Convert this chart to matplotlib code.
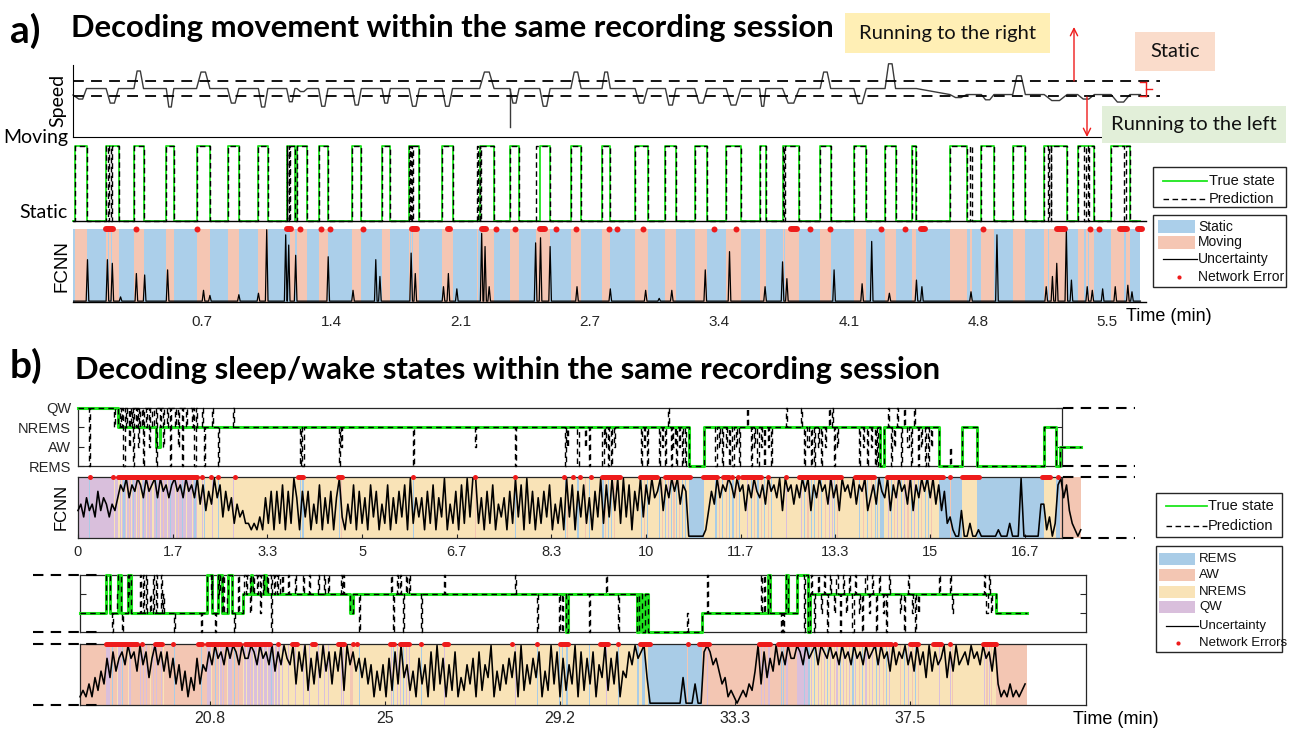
import matplotlib
matplotlib.use('Agg')
import matplotlib.pyplot as plt
from matplotlib.patches import Rectangle
import numpy as np

W, H = 1296, 737
GREEN = '#1ee61e'
RED = '#ee1b1b'
INK = '#262626'
TITLE_FONT = 'Lato'
SANS = 'Liberation Sans'

# ---------------- a) movement decoding (time in minutes) ----------------
# moving intervals of the true state
a_true_moving = [
    (0.010, 0.072), (0.176, 0.242), (0.324, 0.375), (0.496, 0.536), (0.657, 0.728),
    (0.822, 0.882), (0.986, 1.036), (1.136, 1.180), (1.191, 1.246), (1.306, 1.356),
    (1.484, 1.533), (1.643, 1.687), (1.787, 1.842), (1.963, 2.018), (2.162, 2.239),
    (2.323, 2.372), (2.482, 2.537), (2.647, 2.702), (2.813, 2.857), (2.989, 3.055),
    (3.150, 3.206), (3.306, 3.373), (3.473, 3.551), (3.651, 3.684), (3.773, 3.862),
    (3.973, 4.029), (4.152, 4.218), (4.318, 4.374), (4.463, 4.485), (4.663, 4.752),
    (4.830, 4.897), (4.997, 5.064), (5.164, 5.286), (5.342, 5.431), (5.520, 5.620),
]
# peak velocity of each run relative to the resting level (+ right, - left)
a_run_peak = [-7, -9.7, 11.7, -12.3, 11, -9.7, -12.3, -8.8, -2, -11.8,
              -11, -9.7, -11.8, -11.8, 11, -9.7, -11.8, 11, 11, -9.7,
              -11, -9.7, -11, -11.8, -9.7, 11, -10, 16.5, 0, -2,
              -3.5, 12.5, -4, -3, -5]
a_speed_level = [(0.0, 0.0), (4.60, -4.0)]
a_speed_start = -4.3
a_speed_spikes = [(2.323, -25.6)]
a_threshold = 5.0

# decoder output: predicted moving intervals
a_pred_moving = [
    (0.010, 0.072), (0.176, 0.186), (0.192, 0.200), (0.206, 0.242),
    (0.324, 0.375), (0.496, 0.536), (0.657, 0.728), (0.822, 0.882), (0.986, 1.036),
    (1.136, 1.140), (1.146, 1.150), (1.154, 1.180),
    (1.191, 1.246), (1.306, 1.356), (1.484, 1.533), (1.643, 1.687),
    (1.787, 1.792), (1.797, 1.802), (1.806, 1.842), (1.963, 2.018),
    (2.150, 2.155), (2.162, 2.166), (2.170, 2.239),
    (2.323, 2.372), (2.460, 2.537), (2.647, 2.702), (2.813, 2.857), (2.989, 3.055),
    (3.150, 3.206), (3.306, 3.373), (3.473, 3.551), (3.651, 3.684),
    (3.773, 3.780), (3.786, 3.862), (3.973, 4.029), (4.152, 4.218), (4.318, 4.374),
    (4.463, 4.485), (4.663, 4.752), (4.770, 4.778), (4.830, 4.897), (4.997, 5.064),
    (5.164, 5.185), (5.192, 5.198), (5.203, 5.286),
    (5.342, 5.378), (5.385, 5.395), (5.400, 5.431), (5.520, 5.590), (5.598, 5.620),
]
# uncertainty peaks (time, height)
a_unc_spikes = [
    (0.077, 0.58), (0.183, 0.58), (0.209, 0.53), (0.253, 0.07), (0.337, 0.39),
    (0.381, 0.37), (0.503, 0.44), (0.694, 0.16), (0.728, 0.09), (0.882, 0.10),
    (0.986, 0.12), (1.030, 0.99), (1.131, 0.92), (1.147, 0.78), (1.184, 0.64),
    (1.357, 0.62), (1.489, 0.16), (1.610, 0.58), (1.632, 0.35), (1.798, 0.67),
    (1.820, 0.39), (1.970, 0.21), (1.996, 0.39), (2.041, 0.18), (2.173, 0.94),
    (2.191, 0.76), (2.213, 0.21), (2.460, 0.81), (2.486, 0.88), (2.537, 0.76),
    (2.680, 0.21), (2.857, 0.18), (3.045, 0.16), (3.117, 0.05), (3.184, 0.16),
    (3.362, 0.44), (3.491, 0.69), (3.680, 0.21), (3.773, 0.55), (3.796, 0.32),
    (4.047, 0.44), (4.196, 0.25), (4.247, 0.83), (4.341, 0.12), (4.485, 0.30),
    (4.514, 0.21), (4.775, 0.14), (4.913, 0.92), (5.175, 0.21), (5.208, 0.35),
    (5.231, 0.53), (5.282, 0.99), (5.309, 0.30), (5.393, 0.21), (5.420, 0.16),
    (5.475, 0.18), (5.542, 0.21), (5.609, 0.23), (5.631, 0.14),
]
# network errors (start, end)
a_err = [
    (0.176, 0.214), (0.337, 0.337), (0.661, 0.661), (1.136, 1.158), (1.206, 1.206),
    (1.317, 1.317), (1.368, 1.368), (1.544, 1.544), (1.804, 1.831), (1.992, 2.007),
    (2.173, 2.195), (2.250, 2.250), (2.349, 2.349), (2.482, 2.508), (2.566, 2.566),
    (2.676, 2.676), (2.850, 2.850), (2.890, 2.890), (3.029, 3.029), (3.406, 3.406),
    (3.528, 3.528), (3.818, 3.851), (3.918, 3.918), (4.025, 4.025), (4.296, 4.296),
    (4.423, 4.423), (4.508, 4.530), (4.837, 4.837), (5.231, 5.275), (5.409, 5.409),
    (5.453, 5.453), (5.565, 5.603), (5.665, 5.683),
]
a_end = 5.676
a_ticks = [0.6875, 1.375, 2.0625, 2.75, 3.4375, 4.125, 4.8125, 5.5]
a_ticklabels = ['0.7', '1.4', '2.1', '2.7', '3.4', '4.1', '4.8', '5.5']

# ---------------- b) sleep/wake decoding ----------------
REMS, AW, NREMS, QW = 1, 2, 3, 4
b_state_names = ['REMS', 'AW', 'NREMS', 'QW']
b_state_colors = {REMS: '#a9cce7', AW: '#f3c6b3', NREMS: '#f9e3b7', QW: '#d9bfdc'}

b1_true = [(0.0, QW), (0.71, NREMS), (1.37, AW), (1.44, NREMS), (10.76, REMS),
           (11.02, NREMS), (14.12, REMS), (14.19, NREMS), (15.16, REMS),
           (15.56, NREMS), (15.83, REMS), (17.01, NREMS), (17.22, REMS), (17.29, AW)]
b1_end = 17.66
# stretches where the prediction stays in another state (start, end, state)
b1_hold = [(0.74, 2.10, QW)]
# short excursions of the prediction (time, state)
b1_flick = [
    (0.19, 1), (0.63, 3),
    (0.76, 3), (0.80, 1), (0.85, 3), (0.89, 2), (0.93, 3), (0.97, 1), (1.02, 3), (1.06, 2),
    (1.10, 3), (1.15, 1), (1.20, 3), (1.25, 2), (1.31, 3), (1.37, 1), (1.44, 3), (1.50, 2),
    (1.56, 3), (1.62, 1), (1.70, 3), (1.76, 2), (1.83, 1), (1.90, 3), (2.00, 3), (2.05, 1),
    (2.18, 4), (2.22, 1), (2.36, 4), (2.46, 1), (2.73, 4),
    (3.90, 1), (3.95, 1), (4.60, 1), (4.63, 2), (5.90, 1), (6.99, 2), (7.69, 1),
    (8.57, 1), (8.61, 2), (8.79, 1), (8.93, 2), (9.00, 1),
    (9.23, 1), (9.28, 2), (9.33, 1), (9.38, 1), (9.44, 2), (9.91, 1), (9.96, 2), (10.01, 1),
    (10.23, 1), (10.28, 2), (10.33, 1), (10.38, 4), (10.43, 1), (10.48, 2), (10.53, 1),
    (10.58, 2), (10.63, 1), (10.68, 1),
    (11.22, 1), (11.28, 2), (11.34, 1), (11.40, 2), (11.46, 1), (11.52, 1), (11.58, 2),
    (11.64, 1), (11.78, 4),
    (11.84, 1), (11.90, 2), (11.96, 1), (12.02, 2), (12.08, 1), (12.14, 2), (12.20, 1),
    (12.46, 4), (12.73, 4),
    (12.78, 1), (12.84, 2), (12.90, 1), (12.96, 1), (13.02, 2), (13.08, 1), (13.14, 2),
    (13.22, 4), (13.27, 4), (13.31, 1), (13.36, 2),
    (13.75, 1), (13.82, 2), (13.88, 1), (13.95, 2), (14.02, 1), (14.07, 1),
    (14.26, 4), (14.31, 1), (14.36, 2), (14.42, 4), (14.48, 1), (14.54, 4), (14.60, 2),
    (14.66, 1), (14.72, 4), (14.78, 1), (14.84, 2), (14.90, 1), (14.96, 1), (15.02, 2),
    (15.35, 2),
]
b1_err = [
    (0.21, 0.21), (0.62, 0.62), (0.70, 2.10), (2.18, 2.18), (2.34, 2.34), (2.46, 2.46),
    (2.76, 2.76), (3.87, 3.96), (4.58, 4.65), (5.90, 5.90), (6.99, 6.99), (7.69, 7.69),
    (8.56, 8.56), (8.71, 8.71), (8.84, 8.84), (9.03, 9.03), (9.23, 9.54), (9.89, 10.19),
    (10.33, 10.77), (11.00, 11.25), (11.35, 11.45), (11.52, 11.52), (11.62, 11.62),
    (11.69, 12.02), (12.15, 12.15), (12.46, 12.46), (12.69, 13.43), (13.68, 14.01),
    (14.24, 15.23), (15.35, 15.35), (15.56, 15.86), (16.97, 17.11), (17.25, 17.25),
]
# uncertainty, one digit (0-9) per 0.05 min
b1_unc_dt = 0.05
b1_unc = ("45364537465354687968" "79869789697868978697" "86958475968374625342"
          "21213162717281729617" "37152816271693152817" "26183715281627381926"
          "36172816391527182939" "92617281536172938192" "71627381526193817382"
          "61739283949293817493" "85967948697958700000" "01475968798697848697"
          "68597869497858697948" "69785968497869587946" "85976948697859486979"
          "69584723100400200100" "00001000200090000005" "51302896842101")
b1_ticks = [0, 1.667, 3.333, 5, 6.667, 8.333, 10, 11.667, 13.333, 15, 16.667]
b1_ticklabels = ['0', '1.7', '3.3', '5', '6.7', '8.3', '10', '11.7', '13.3', '15', '16.7']

b2_true = [(17.74, AW), (18.36, QW), (18.45, AW), (18.64, QW), (18.71, AW), (18.88, QW),
           (18.96, AW), (20.76, QW), (20.88, AW), (21.02, QW), (21.12, AW), (21.26, QW),
           (21.36, AW), (21.62, NREMS), (21.80, QW), (21.84, NREMS), (22.12, QW),
           (22.16, NREMS), (24.17, AW), (24.24, NREMS), (29.31, REMS), (29.36, NREMS),
           (31.00, REMS), (31.05, NREMS), (31.12, REMS), (31.20, NREMS), (31.26, REMS),
           (32.55, AW), (34.12, QW), (34.17, AW), (34.55, QW), (34.60, AW), (34.81, QW),
           (35.08, REMS), (35.12, NREMS), (39.55, AW)]
b2_end = 40.29
b2_hold = [(21.64, 22.50, QW)]
b2_flick = [
    (18.50, 1), (18.62, 3), (18.75, 1), (18.88, 3), (19.17, 4),
    (19.24, 4), (19.32, 4), (19.40, 3), (19.48, 4), (19.56, 4), (19.66, 4), (19.71, 3),
    (19.97, 1), (20.62, 1),
    (20.85, 3), (20.95, 1), (21.05, 3), (21.15, 4), (21.25, 3), (21.40, 1), (21.50, 4),
    (21.70, 3), (21.78, 2), (21.86, 3), (21.95, 3), (22.03, 2), (22.10, 3), (22.20, 3),
    (22.28, 1), (22.36, 3), (22.44, 3),
    (22.55, 4), (22.70, 4), (22.85, 4), (23.05, 4), (23.20, 4), (23.40, 4), (23.55, 4),
    (23.65, 4), (23.95, 4), (24.00, 4), (24.38, 1),
    (25.14, 4), (25.20, 1), (25.28, 4), (25.35, 4), (25.42, 1), (25.50, 4), (25.58, 4),
    (25.86, 1), (26.41, 4), (28.10, 4), (28.62, 1), (29.14, 1), (29.22, 1), (29.86, 1),
    (30.26, 4), (30.55, 1),
    (32.18, 2), (32.67, 4), (33.96, 4), (34.02, 4), (34.42, 1), (34.48, 1),
    (34.90, 4), (34.97, 1), (35.05, 4), (35.15, 4), (35.22, 1), (35.30, 4), (35.38, 2),
    (35.45, 4), (35.52, 1), (35.60, 4), (35.68, 2), (35.75, 4), (35.83, 1), (35.90, 4),
    (35.98, 2), (36.05, 4), (36.13, 1), (36.20, 4), (36.28, 2), (36.36, 1), (36.44, 4),
    (36.52, 2), (36.60, 4), (36.68, 1), (36.76, 4), (36.85, 2), (36.93, 1), (37.01, 4),
    (37.26, 2), (37.35, 1), (37.45, 4), (37.55, 2), (37.62, 1), (37.69, 2),
    (38.19, 4), (38.46, 4), (38.49, 2),
    (39.26, 4), (39.32, 2), (39.38, 4), (39.43, 2),
]
b2_err = [
    (18.36, 19.10), (19.22, 19.22), (19.53, 19.69), (19.95, 19.95), (20.55, 20.64),
    (20.76, 21.55), (21.67, 22.26), (22.45, 22.45), (22.79, 22.91), (23.26, 23.34),
    (23.88, 24.03), (24.24, 24.24), (24.33, 24.33), (25.12, 25.22), (25.36, 25.57),
    (25.86, 25.86), (26.41, 26.50), (28.03, 28.03), (28.62, 28.62), (29.17, 29.36),
    (30.12, 30.31), (30.55, 30.55), (31.07, 31.31), (32.22, 32.22), (32.48, 32.72),
    (33.90, 34.17), (34.36, 37.05), (37.14, 37.14), (37.50, 37.69), (38.05, 38.24),
    (38.45, 38.45), (39.24, 39.55),
]
# uncertainty, one digit per 1/14 min
b2_unc_dt = 1 / 14
b2_unc = ("12131425374857" "86978596847968" "58473625142736" "58697869798697"
          "79869786958697" "69385927384958" "38592968574736" "15261728394625"
          "17361829371628" "14263718264915" "26374819263748" "15293817263918"
          "27381649273815" "48697894000000" "00000400030089" "86753412101213"
          "25938475968697" "79869789698797" "86978697869789" "69785968796859"
          "68495867948596" "78697869785931" "21312123")
b2_ticks = [20.833, 25, 29.167, 33.333, 37.5]
b2_ticklabels = ['20.8', '25', '29.2', '33.3', '37.5']


def px_axes(fig, x0, y0, x1, y1):
    return fig.add_axes([x0 / W, 1 - y1 / H, (x1 - x0) / W, (y1 - y0) / H])


def pulse_xy(intervals, t_end):
    xs, ys = [0.0], [0]
    for ts, te in intervals:
        xs += [ts, ts, te, te]
        ys += [0, 1, 1, 0]
    xs.append(t_end)
    ys.append(0)
    return xs, ys


def state_at(changes, t):
    s = changes[0][1]
    for t0, v in changes:
        if t0 <= t:
            s = v
        else:
            break
    return s


def prediction(changes, holds, flicks, dur):
    # true state with held stretches, then short excursions on top
    base = list(changes)
    for h0, h1, lvl in holds:
        after = state_at(base, h1)
        base = [e for e in base if not (h0 <= e[0] <= h1)]
        base += [(h0, lvl), (h1, after)]
        base.sort(key=lambda e: e[0])
    ev = list(base)
    for tf, lvl in flicks:
        ev.append((tf, lvl))
        ev.append((tf + dur, state_at(base, tf + dur)))
    ev.sort(key=lambda e: e[0])
    return ev


def step_xy(changes, t_end):
    xs, ys = [], []
    for i, (t, v) in enumerate(changes):
        t1 = changes[i + 1][0] if i + 1 < len(changes) else t_end
        xs += [t, t1]
        ys += [v, v]
    return xs, ys


def state_spans(changes, t_end):
    out = {}
    for i, (t, v) in enumerate(changes):
        t1 = changes[i + 1][0] if i + 1 < len(changes) else t_end
        if t1 > t:
            out.setdefault(v, []).append((t, t1 - t))
    return out


def draw_errors(ax, errs, lw, y=1.0):
    for t0, t1 in errs:
        if t1 > t0:
            ax.plot([t0, t1], [y, y], color=RED, lw=lw, solid_capstyle='round',
                    clip_on=False, zorder=6)
        else:
            ax.plot([t0], [y], 'o', color=RED, ms=lw, mec='none', clip_on=False, zorder=6)


def box_style(ax):
    for sp in ax.spines.values():
        sp.set_color(INK)
        sp.set_linewidth(0.9)


fig = plt.figure(figsize=(W / 100, H / 100), dpi=100)

# ---- a) speed ----
a_xmax = 5.78
ax = px_axes(fig, 73, 65, 1160, 137)
ax.set_xlim(0, a_xmax)
ax.set_ylim(-32.3, 15.7)


def speed_base(t):
    b = a_speed_level[0][1]
    for t0, v in a_speed_level:
        if t >= t0:
            b = v
    return b


sx, sy = [0.0], [a_speed_start]
for (ts, te), pk in zip(a_true_moving, a_run_peak):
    w = te - ts
    b = speed_base(ts)
    if ts > 0.02:
        sx.append(ts)
        sy.append(b)
    sx += [ts + w / 3, te - w / 3, te]
    sy += [b + pk, b + pk, b]
sx.append(a_end)
sy.append(speed_base(a_end))
ax.plot(sx, sy, color='#3a3a3a', lw=1.0, clip_on=False)
for ts, v in a_speed_spikes:
    ax.plot([ts, ts], [speed_base(ts), v], color='#3a3a3a', lw=1.0)
for th in (a_threshold, -a_threshold):
    ax.plot([0, a_xmax], [th, th], color='k', lw=1.3, dashes=(6, 4))
ax.spines['top'].set_visible(False)
ax.spines['right'].set_visible(False)
ax.spines['left'].set_color('k')
ax.spines['bottom'].set_color('k')
ax.set_xticks([])
ax.set_yticks([])
ax.patch.set_alpha(0)

# ---- a) true vs predicted movement state ----
ax = px_axes(fig, 73, 146, 1160, 221)
ax.set_xlim(0, a_xmax)
ax.set_ylim(0, 1)
ax.plot(*pulse_xy(a_true_moving, a_end), color=GREEN, lw=1.3, clip_on=False)
ax.plot(*pulse_xy(a_pred_moving, a_end), color='k', lw=1.0, dashes=(4, 2.5), clip_on=False)
ax.plot([0, 5.705], [0, 0], color='k', lw=1.0, clip_on=False)
ax.axis('off')

# ---- a) FCNN uncertainty ----
ax = px_axes(fig, 73, 229, 1160, 302)
ax.set_xlim(0, a_xmax)
ax.set_ylim(0, 1)
static_spans, prev = [], 0.0
for ts, te in a_pred_moving:
    static_spans.append((prev, ts - prev))
    prev = te
static_spans.append((prev, a_end - prev))
ax.broken_barh(static_spans, (0, 1), facecolors='#abcfea', lw=0)
ax.broken_barh([(ts, te - ts) for ts, te in a_pred_moving], (0, 1), facecolors='#f5c6b3', lw=0)
ux, uy = [0.0], [0.012]
for t, h in a_unc_spikes:
    ux += [t - 0.007, t, t + 0.007]
    uy += [0.012, h, 0.012]
ux.append(a_end)
uy.append(0.012)
ax.plot(ux, uy, color='k', lw=0.9)
ax.plot([0, 5.705], [0, 0], color='k', lw=1.0, clip_on=False)
draw_errors(ax, a_err, 4.3)
for sp in ax.spines.values():
    sp.set_visible(False)
ax.set_yticks([])
ax.set_xticks(a_ticks)
ax.set_xticklabels(a_ticklabels, fontsize=11, family=SANS, color=INK)
ax.tick_params(axis='x', length=0, pad=9)

# ---- b) two rows, each: state trace + FCNN panel ----
rows = [
    dict(xr=(78, 1062), ys=(408, 466), yf=(477, 538), lim=(0, 17.32), true=b1_true,
         end=b1_end, hold=b1_hold, flick=b1_flick, dur=0.02, err=b1_err, unc=b1_unc,
         t0=0.0, dt=b1_unc_dt, ticks=b1_ticks, labels=b1_ticklabels, tfs=10.5, tpad=5,
         ylab=True),
    dict(xr=(80, 1086), ys=(575, 632), yf=(644, 705), lim=(17.74, 41.69), true=b2_true,
         end=b2_end, hold=b2_hold, flick=b2_flick, dur=0.025, err=b2_err, unc=b2_unc,
         t0=17.74, dt=b2_unc_dt, ticks=b2_ticks, labels=b2_ticklabels, tfs=11.5, tpad=4,
         ylab=False),
]
for r in rows:
    pred = prediction(r['true'], r['hold'], r['flick'], r['dur'])

    axs = px_axes(fig, r['xr'][0], r['ys'][0], r['xr'][1], r['ys'][1])
    axs.set_xlim(*r['lim'])
    axs.set_ylim(1, 4)
    axs.plot(*step_xy(r['true'], r['end']), color=GREEN, lw=2.2, clip_on=False, zorder=3)
    axs.plot(*step_xy(pred, r['end']), color='k', lw=1.0, dashes=(4, 3), clip_on=False,
             zorder=4)
    box_style(axs)
    axs.set_xticks([])
    if r['ylab']:
        axs.set_yticks([1, 2, 3, 4])
        axs.set_yticklabels(b_state_names, fontsize=10.5, family=SANS, color=INK)
    else:
        axs.set_yticks([2, 3])
        axs.set_yticklabels([])
    axs.tick_params(axis='y', direction='in', length=4, right=True, pad=5, color=INK)

    axf = px_axes(fig, r['xr'][0], r['yf'][0], r['xr'][1], r['yf'][1])
    axf.set_xlim(*r['lim'])
    axf.set_ylim(0, 1)
    for lvl, sp in state_spans(pred, r['end']).items():
        bars = axf.broken_barh(sp, (0, 1), facecolors=b_state_colors[lvl], lw=0)
        bars.set_clip_on(False)
    vals = np.array([int(c) for c in r['unc']]) * 0.105 + 0.03
    tt = r['t0'] + r['dt'] * np.arange(len(vals))
    axf.plot(tt, vals, color='k', lw=1.15, clip_on=False, zorder=3)
    draw_errors(axf, r['err'], 3.6)
    box_style(axf)
    axf.set_yticks([])
    axf.set_xticks(r['ticks'])
    axf.set_xticklabels(r['labels'], fontsize=r['tfs'], family=SANS, color=INK)
    axf.tick_params(axis='x', direction='in', length=3, pad=r['tpad'], color=INK)

# ---- annotations, titles and legends in pixel coordinates ----
ov = fig.add_axes([0, 0, 1, 1], zorder=10)
ov.set_xlim(0, W)
ov.set_ylim(H, 0)
ov.axis('off')

ov.text(10, 31, 'a)', fontsize=28, fontweight='bold', family=TITLE_FONT, va='center')
ov.text(71, 28, 'Decoding movement within the same recording session', fontsize=22.3,
        fontweight='bold', family=TITLE_FONT, va='center')
ov.text(10, 366, 'b)', fontsize=28, fontweight='bold', family=TITLE_FONT, va='center')
ov.text(75, 370, 'Decoding sleep/wake states within the same recording session',
        fontsize=22.3, fontweight='bold', family=TITLE_FONT, va='center')

boxes = [((845, 13, 1050, 53), '#ffefb5', 'Running to the right'),
         ((1135, 32, 1215, 71), '#fadccb', 'Static'),
         ((1102, 106, 1286, 143), '#e2efd9', 'Running to the left')]
for (x0, y0, x1, y1), fc, label in boxes:
    ov.add_patch(Rectangle((x0, y0), x1 - x0, y1 - y0, fc=fc, ec='none'))
    ov.text((x0 + x1) / 2, (y0 + y1) / 2, label, fontsize=14.5, family=TITLE_FONT,
            ha='center', va='center', color='#111111')

arrow = dict(arrowstyle='->', color=RED, lw=1.0, shrinkA=0, shrinkB=0, mutation_scale=13)
ov.annotate('', xy=(1074, 27), xytext=(1074, 81), arrowprops=arrow)
ov.annotate('', xy=(1087, 137), xytext=(1087, 97), arrowprops=arrow)
ov.plot([1146, 1146], [82, 96], color=RED, lw=1.0)
ov.plot([1140, 1146], [82, 82], color=RED, lw=1.0)
ov.plot([1140, 1146], [96, 96], color=RED, lw=1.0)
ov.plot([1146, 1152], [89, 89], color=RED, lw=1.0)

ov.text(58, 100, 'Speed', rotation=90, fontsize=14, family=TITLE_FONT, ha='center', va='center')
ov.text(68, 137, 'Moving', fontsize=14, family=TITLE_FONT, ha='right', va='center')
ov.text(68, 212, 'Static', fontsize=14, family=TITLE_FONT, ha='right', va='center')
ov.text(62, 266, 'FCNN', rotation=90, fontsize=13.5, family=SANS, ha='center', va='center')
ov.text(61, 507, 'FCNN', rotation=90, fontsize=12, family=SANS, ha='center', va='center')
ov.text(1126, 316, 'Time (min)', fontsize=13, family=SANS, va='center')
ov.text(1073, 720, 'Time (min)', fontsize=13, family=SANS, va='center')

# dashed guides linking the two halves of the sleep recording
for y in (408, 466, 477, 538):
    ov.plot([1063, 1135], [y, y], color='k', lw=1.5, dashes=(5, 3.5))
for y in (575, 632, 644, 705):
    ov.plot([33, 103], [y, y], color='k', lw=1.5, dashes=(5, 3.5))


def legend_frame(x0, y0, x1, y1):
    ov.add_patch(Rectangle((x0, y0), x1 - x0, y1 - y0, fc='white', ec=INK, lw=1.0))


def legend_text(x, y, s, fs):
    ov.text(x, y, s, fontsize=fs, family=SANS, va='center', color='#111111')


# legend a
legend_frame(1153, 167, 1286, 207)
ov.plot([1163, 1207], [181, 181], color=GREEN, lw=1.3)
legend_text(1209, 181, 'True state', 10.5)
ov.plot([1163, 1207], [199, 199], color='k', lw=1.0, dashes=(4, 2.5))
legend_text(1209, 199, 'Prediction', 10.5)
legend_frame(1153, 215, 1286, 287)
ov.add_patch(Rectangle((1158, 220), 37, 13, fc='#abcfea', ec='none'))
legend_text(1198, 227, 'Static', 10)
ov.add_patch(Rectangle((1158, 236), 37, 13, fc='#f5c6b3', ec='none'))
legend_text(1198, 242, 'Moving', 10)
ov.plot([1163, 1197], [259, 259], color='k', lw=0.9)
legend_text(1198, 259, 'Uncertainty', 10)
ov.plot([1179], [277], 'o', color=RED, ms=3, mec='none')
legend_text(1198, 277, 'Network Error', 10)

# legend b
legend_frame(1156, 493, 1282, 537)
ov.plot([1166, 1207], [506, 506], color=GREEN, lw=1.3)
legend_text(1208, 506, 'True state', 10.5)
ov.plot([1166, 1207], [526, 526], color='k', lw=1.0, dashes=(4, 2.5))
legend_text(1208, 526, 'Prediction', 10.5)
legend_frame(1156, 546, 1282, 652)
for lvl, yc in zip([REMS, AW, NREMS, QW], [559, 575, 592, 607]):
    ov.add_patch(Rectangle((1159, yc - 6), 36, 12, fc=b_state_colors[lvl], ec='none'))
    legend_text(1199, yc, b_state_names[lvl - 1], 9.5)
ov.plot([1166, 1198], [626, 626], color='k', lw=0.9)
legend_text(1199, 626, 'Uncertainty', 9.5)
ov.plot([1178], [643], 'o', color=RED, ms=3, mec='none')
legend_text(1199, 643, 'Network Errors', 9.5)

fig.savefig('out.png', dpi=100)
